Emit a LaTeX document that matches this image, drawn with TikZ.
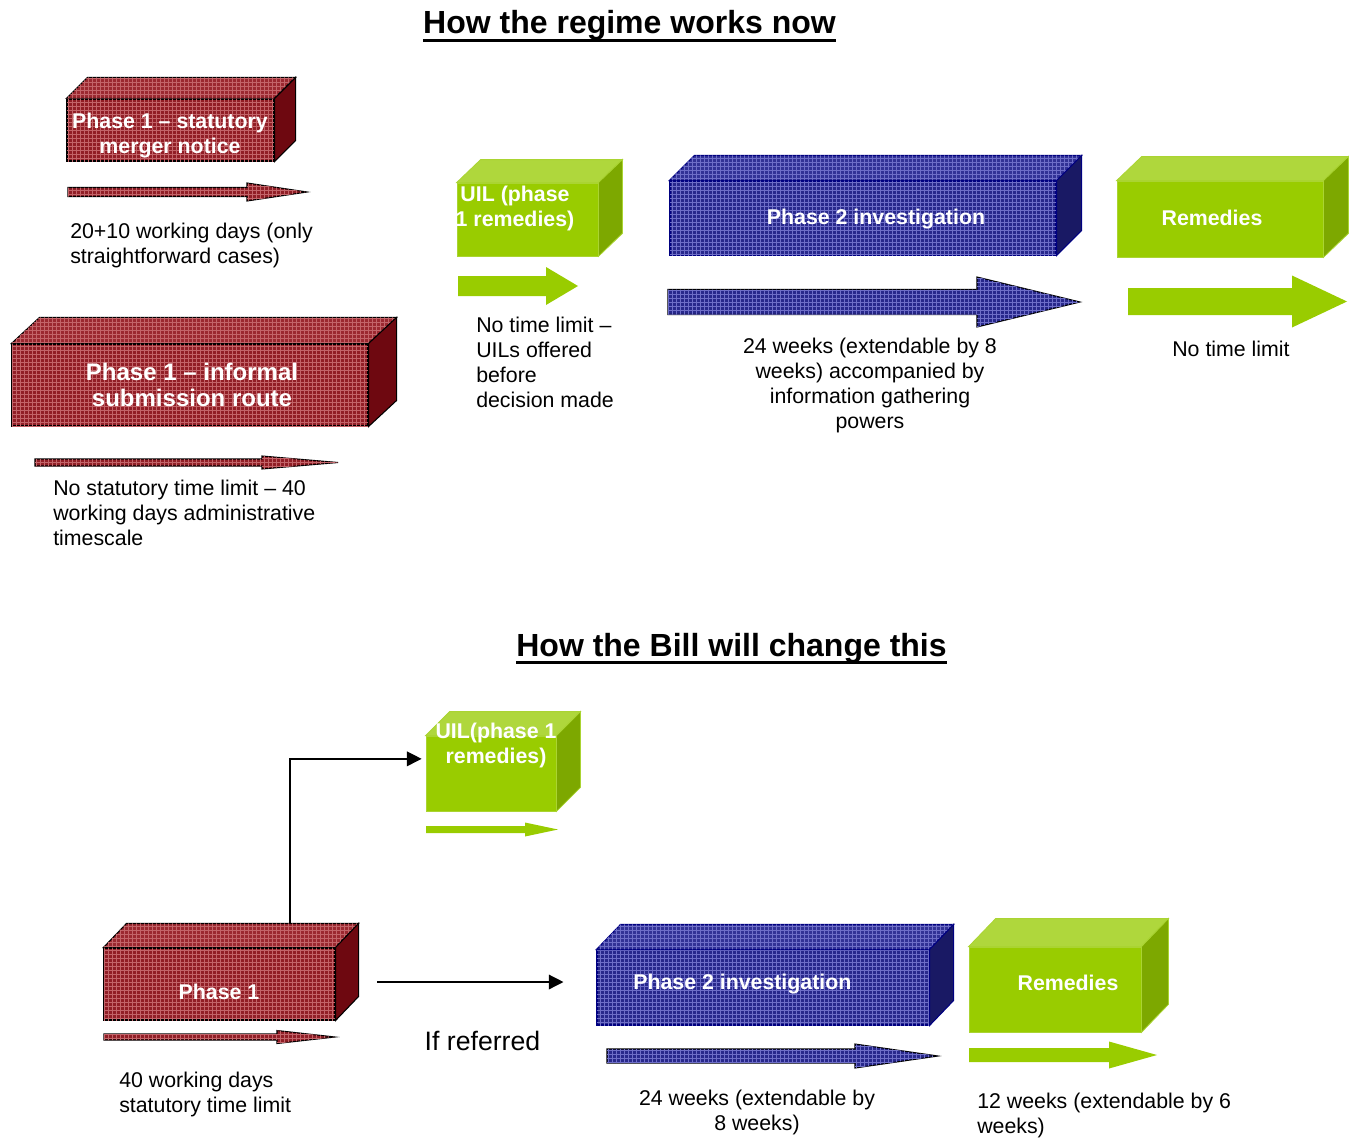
\documentclass[tikz,border=0pt]{standalone}
\usepackage{fontspec}
\setmainfont{Liberation Sans}
\usetikzlibrary{fit,patterns,arrows.meta}
\definecolor{rfront}{RGB}{145,30,38}
\definecolor{rtop}{RGB}{155,40,48}
\definecolor{rside}{RGB}{110,8,16}
\definecolor{rdot}{RGB}{195,100,105}
\definecolor{bfront}{RGB}{40,40,140}
\definecolor{btop}{RGB}{50,50,150}
\definecolor{bside}{RGB}{25,25,100}
\definecolor{bedge}{RGB}{0,0,128}
\definecolor{bdot}{RGB}{110,110,200}
\definecolor{gfront}{RGB}{153,204,0}
\definecolor{gtop}{RGB}{175,215,60}
\definecolor{gside}{RGB}{125,168,0}
\definecolor{gedge}{RGB}{170,212,50}
\tikzset{
  redfront/.style={fill=rfront, draw=black, line width=0.8pt, postaction={pattern=grid, pattern color=rdot}},
  redtop/.style={fill=rtop, draw=black, line width=0.8pt, postaction={pattern=grid, pattern color=rdot}},
  redside/.style={fill=rside, draw=black, line width=0.8pt},
  bluefront/.style={fill=bfront, draw=bedge, line width=0.8pt, postaction={pattern=grid, pattern color=bdot}},
  bluetop/.style={fill=btop, draw=bedge, line width=0.8pt, postaction={pattern=grid, pattern color=bdot}},
  blueside/.style={fill=bside, draw=bedge, line width=0.8pt},
  greenfront/.style={fill=gfront, draw=gedge, line width=0.6pt},
  greentop/.style={fill=gtop, draw=gedge, line width=0.6pt},
  greenside/.style={fill=gside, draw=gedge, line width=0.6pt},
  redarrow/.style={fill=rfront, draw=black, line width=0.8pt, postaction={pattern=grid, pattern color=rdot}},
  bluearrow/.style={fill=bfront, draw=black, line width=0.8pt, postaction={pattern=grid, pattern color=bdot}},
  greenarrow/.style={fill=gfront},
  body/.style={font=\fontsize{16}{18.75}\selectfont, inner sep=0pt},
  boxtxt/.style={font=\fontsize{16}{18.75}\selectfont\bfseries, text=white, align=center, inner sep=0pt},
  titletxt/.style={font=\fontsize{24}{28}\selectfont\bfseries, inner sep=0pt},
  conn/.style={line width=1pt, -{Triangle[length=11pt,width=11pt]}},
}
% #1 name, #2 corner, #3 corner, #4 dx, #5 dy, #6 colour prefix
\newcommand\cuboid[6]{%
  \node[fit={#2#3}, inner sep=0pt, #6front] (#1) {};
  \path[#6top] (#1.north west) -- ++(#4,-#5) -- ([shift={(#4,-#5)}]#1.north east) -- (#1.north east) -- cycle;
  \path[#6side] (#1.north east) -- ++(#4,-#5) -- ([shift={(#4,-#5)}]#1.south east) -- (#1.south east) -- cycle;
}
% #1 style, #2 x start, #3 x tip, #4 y centre, #5 shaft half, #6 head x, #7 head half
\newcommand\barrow[7]{%
  \path[#1] (#2,#4-#5) -- (#6,#4-#5) -- (#6,#4-#7) -- (#3,#4) -- (#6,#4+#7) -- (#6,#4+#5) -- (#2,#4+#5) -- cycle;
}
\begin{document}
\begin{tikzpicture}[x=0.75pt,y=-0.75pt]
\useasboundingbox (0,0) rectangle (1349,1138);

% ---------- titles ----------
\node[titletxt, anchor=base] (title1) at (629.5,34) {How the regime works now};
\draw[line width=2.25pt] ([yshift=-4.9pt]title1.base west) -- ([yshift=-4.9pt]title1.base east);
\node[titletxt, anchor=base] (title2) at (731.5,656) {How the Bill will change this};
\draw[line width=2.25pt] ([yshift=-4.9pt]title2.base west) -- ([yshift=-4.9pt]title2.base east);

% ---------- top section ----------
\cuboid{p1s}{(67,99)}{(274,161)}{21}{21}{red}
\node[boxtxt] (p1stxt) at (170,135.5) {Phase 1 – statutory\\merger notice};
\barrow{redarrow}{68}{307}{192}{4.5}{247}{9}
\node[body, anchor=north west, align=left] (t20) at (70,223) {20+10 working days (only\\straightforward cases)};

\cuboid{p1i}{(12,344)}{(368,426)}{28}{26}{red}
\node[boxtxt, font=\fontsize{18}{19.5}\selectfont\bfseries] (p1itxt) at (192,385) {Phase 1 – informal\\submission route};
\barrow{redarrow}{35}{338}{462.5}{3.5}{262}{6.5}
\node[body, anchor=north west, align=left] (tns) at (53,480) {No statutory time limit – 40\\working days administrative\\timescale};

\cuboid{uil1}{(457,183)}{(598,256)}{24}{23}{green}
\node[boxtxt] (uil1txt) at (515,208) {UIL (phase\\1 remedies)};
\barrow{greenarrow}{458}{578}{286}{10}{546}{19}
\node[body, anchor=north west, align=left] (tuil) at (476,317) {No time limit –\\UILs offered\\before\\decision made};

\cuboid{p2t}{(670,181)}{(1056,255)}{25}{25}{blue}
\node[boxtxt] (p2ttxt) at (876,219) {Phase 2 investigation};
\barrow{bluearrow}{668}{1080}{302}{12.5}{977}{25}
\node[body, anchor=north, align=center] (tp2) at (870,338) {24 weeks (extendable by 8\\weeks) accompanied by\\information gathering\\powers};

\cuboid{remt}{(1117,181)}{(1323,257)}{25}{24}{green}
\node[boxtxt] (remttxt) at (1212,218) {Remedies};
\barrow{greenarrow}{1128}{1347}{301.5}{13.5}{1292}{26}
\node[body] (tnl) at (1231,349) {No time limit};

% ---------- bottom section ----------
\cuboid{uil2}{(426,736)}{(556,811)}{24}{24}{green}
\node[boxtxt] (uil2txt) at (496,745) {UIL(phase 1\\remedies)};
\barrow{greenarrow}{426}{558}{829.5}{3.5}{525}{7}

\cuboid{p1b}{(104,948)}{(335,1020)}{23}{24}{red}
\node[boxtxt] (p1btxt) at (219,991.5) {Phase 1};
\barrow{redarrow}{104}{335}{1037}{3}{277}{6.5}
\node[body, anchor=north west, align=left] (t40) at (119,1072) {40 working days\\statutory time limit};

\cuboid{p2b}{(597,950)}{(929,1025)}{24}{25}{blue}
\node[boxtxt, anchor=west] (p2btxt) at (633,984) {Phase 2 investigation};
\barrow{bluearrow}{607}{938}{1056}{7}{855}{12}
\node[body, anchor=north, align=center] (t24) at (757,1090) {24 weeks (extendable by\\8 weeks)};

\cuboid{remb}{(969,947)}{(1141,1032)}{27}{28}{green}
\node[boxtxt] (rembtxt) at (1068,982.5) {Remedies};
\barrow{greenarrow}{969}{1157}{1055}{7}{1109}{13.5}
\node[body, anchor=north west, align=left] (t12) at (977,1093) {12 weeks (extendable by 6\\weeks)};

\node[body, font=\fontsize{20}{24}\selectfont, anchor=base] (tif) at (482.5,1050) {If referred};

% ---------- connectors ----------
\coordinate (elb) at (290,924);
\draw[conn] (elb) |- ([xshift=-3pt,yshift=11pt]uil2.west);
\coordinate (ifa) at (377,982);
\draw[conn, shorten >=24.75pt] (ifa) -- (ifa -| p2b.west);
\end{tikzpicture}
\end{document}
